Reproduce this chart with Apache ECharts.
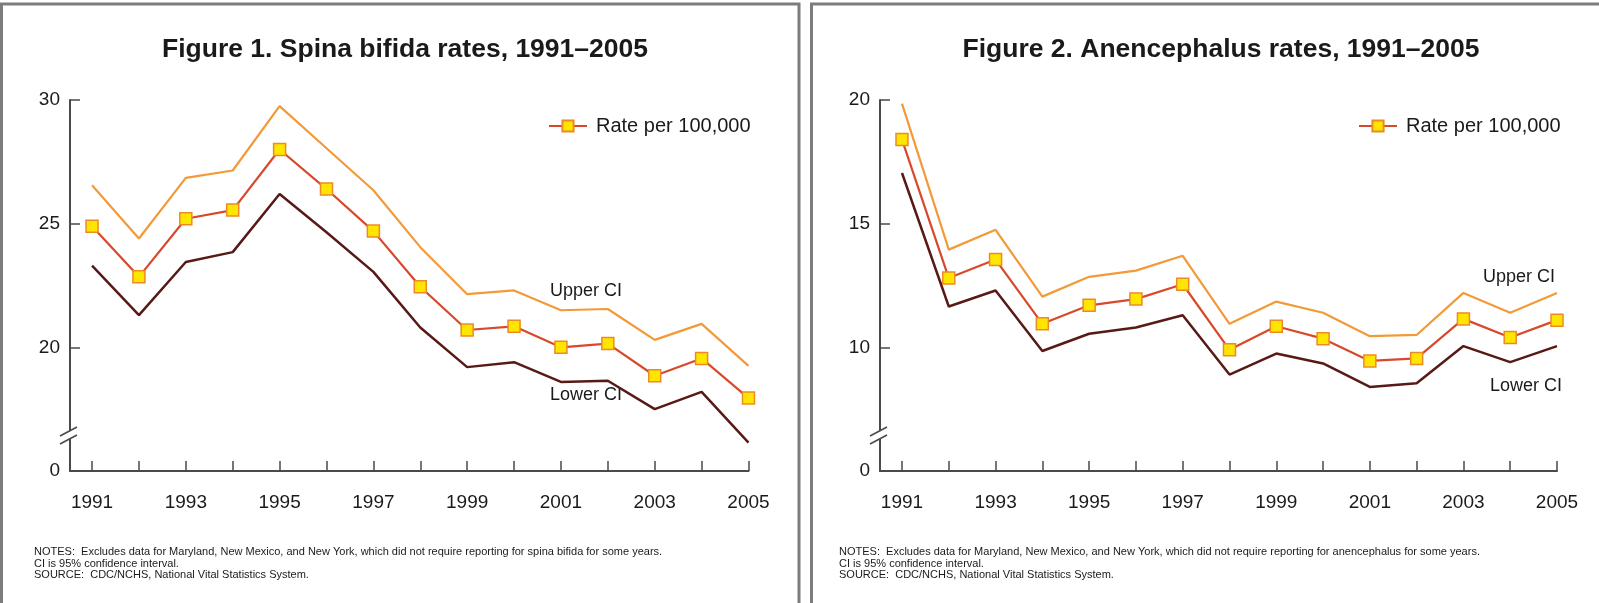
<!DOCTYPE html>
<html>
<head>
<meta charset="utf-8">
<script src="https://cdn.jsdelivr.net/npm/echarts@6/dist/echarts.min.js"></script>
<style>
html,body{margin:0;padding:0;background:#fff;}
#c{width:1599px;height:603px;}
</style>
</head>
<body>
<div id="c"></div>
<script>
// ---- data ----
var years = [1991,1992,1993,1994,1995,1996,1997,1998,1999,2000,2001,2002,2003,2004,2005];
var xLabelYears = [1991,1993,1995,1997,1999,2001,2003,2005];

var spinaRate  = [24.9, 22.85, 25.2, 25.55, 28.0, 26.4, 24.7, 22.45, 20.7, 20.85, 20.0, 20.15, 18.85, 19.55, 17.95];
var spinaUpper = [26.55, 24.4, 26.85, 27.15, 29.75, 28.05, 26.35, 24.05, 22.15, 22.3, 21.5, 21.55, 20.3, 20.95, 19.25];
var spinaLower = [23.3, 21.3, 23.45, 23.85, 26.2, 24.65, 23.05, 20.8, 19.2, 19.4, 18.6, 18.65, 17.5, 18.2, 16.15];

var anenRate  = [18.4, 12.8, 13.55, 10.95, 11.7, 11.95, 12.55, 9.9, 10.85, 10.35, 9.45, 9.55, 11.15, 10.4, 11.1];
var anenUpper = [19.85, 13.95, 14.75, 12.05, 12.85, 13.1, 13.7, 10.95, 11.85, 11.4, 10.45, 10.5, 12.2, 11.4, 12.2];
var anenLower = [17.05, 11.65, 12.3, 9.85, 10.55, 10.8, 11.3, 8.9, 9.75, 9.35, 8.4, 8.55, 10.05, 9.4, 10.05];

var spinaYTicks = [15, 20, 25, 30];   // 15 is shown as "0" (broken axis)
var anenYTicks  = [5, 10, 15, 20];    // 5 is shown as "0" (broken axis)

var titles = ['Figure 1. Spina bifida rates, 1991\u20132005', 'Figure 2. Anencephalus rates, 1991\u20132005'];
var legendName = 'Rate per 100,000';
var notes1 = ['NOTES:  Excludes data for Maryland, New Mexico, and New York, which did not require reporting for spina bifida for some years.',
              'CI is 95% confidence interval.',
              'SOURCE:  CDC/NCHS, National Vital Statistics System.'];
var notes2 = ['NOTES:  Excludes data for Maryland, New Mexico, and New York, which did not require reporting for anencephalus for some years.',
              'CI is 95% confidence interval.',
              'SOURCE:  CDC/NCHS, National Vital Statistics System.'];

// ---- chart ----
var FONT = '"Liberation Sans", Arial, Helvetica, sans-serif';
var AXIS = '#4a4a4a';
var C_UP = '#F29A38', C_RATE = '#D8492B', C_LOW = '#571A16', C_SQ = '#FFE500', C_SQB = '#EE8A26';

function pairs(v){ return years.map(function(y,i){ return [y, v[i]]; }); }

function xAxis(gi){
  return {
    type:'value', gridIndex:gi, min:1990.53, max:2005,
    axisLine:{show:true, lineStyle:{color:AXIS, width:2}},
    axisTick:{show:true, inside:true, length:10, lineStyle:{color:AXIS, width:1.5}, customValues:years},
    axisLabel:{show:true, margin:22, fontSize:19, color:'#1a1a1a', fontFamily:FONT,
               customValues:xLabelYears, formatter:function(v){return String(v);}},
    splitLine:{show:false}
  };
}
function yAxis(gi, ticks){
  var base = ticks[0];
  return {
    type:'value', gridIndex:gi, min:ticks[0], max:ticks[ticks.length-1], interval:5,
    axisLine:{show:true, lineStyle:{color:AXIS, width:2}},
    axisTick:{show:true, inside:true, length:10, lineStyle:{color:AXIS, width:1.5}},
    axisLabel:{margin:10, fontSize:19, color:'#1a1a1a', fontFamily:FONT,
               formatter:function(v){ return v===base ? '0' : String(v); }},
    splitLine:{show:false}
  };
}
function seriesSet(gi, up, rate, low){
  return [
    {type:'line', name:'Upper CI', xAxisIndex:gi, yAxisIndex:gi, data:pairs(up), symbol:'none',
     lineStyle:{color:C_UP, width:2.2}, z:2, silent:true},
    {type:'line', name:'Lower CI', xAxisIndex:gi, yAxisIndex:gi, data:pairs(low), symbol:'none',
     lineStyle:{color:C_LOW, width:2.5}, z:2, silent:true},
    {type:'line', name:legendName, xAxisIndex:gi, yAxisIndex:gi, data:pairs(rate), symbol:'rect', symbolSize:12,
     showAllSymbol:true,
     itemStyle:{color:C_SQ, borderColor:C_SQB, borderWidth:1.5},
     lineStyle:{color:C_RATE, width:2.2}, z:3, silent:true}
  ];
}
function txt(x,y,t,opt){
  opt = opt||{};
  return {type:'text', x:x, y:y, silent:true, style:{text:t, fill:opt.fill||'#1a1a1a', font:(opt.weight||'normal')+' '+(opt.size||18)+'px '+FONT,
          textAlign:opt.align||'left', textVerticalAlign:'middle'}};
}
function breakMark(ax, y){
  return [
    {type:'rect', shape:{x:ax-3, y:y-4, width:6, height:8}, style:{fill:'#fff'}, silent:true, z:100},
    {type:'line', shape:{x1:ax-10, y1:y+1, x2:ax+7, y2:y-8}, style:{stroke:AXIS, lineWidth:1.6}, silent:true, z:101},
    {type:'line', shape:{x1:ax-10, y1:y+9, x2:ax+7, y2:y}, style:{stroke:AXIS, lineWidth:1.6}, silent:true, z:101}
  ];
}

var graphics = [
  {type:'rect', shape:{x:1.5, y:4, width:797.5, height:640}, style:{fill:'none', stroke:'#7d7d7d', lineWidth:3}, silent:true},
  {type:'rect', shape:{x:811.5, y:4, width:800, height:640}, style:{fill:'none', stroke:'#7d7d7d', lineWidth:3}, silent:true},
  txt(405, 50, titles[0], {weight:'bold', size:26.5, align:'center'}),
  txt(1221, 50, titles[1], {weight:'bold', size:26.5, align:'center'}),
  txt(586, 291, 'Upper CI', {align:'center'}),
  txt(586, 395, 'Lower CI', {align:'center'}),
  txt(1519, 277, 'Upper CI', {align:'center'}),
  txt(1526, 386, 'Lower CI', {align:'center'})
].concat(breakMark(70, 435)).concat(breakMark(880, 435));
[552, 563.5, 575].forEach(function(y,i){
  graphics.push(txt(34, y, notes1[i], {size:11}));
  graphics.push(txt(839, y, notes2[i], {size:11}));
});

var chart = echarts.init(document.getElementById('c'), null, {renderer:'canvas'});
chart.setOption({
  animation:false,
  backgroundColor:'#fff',
  grid:[
    {left:70, top:100, width:678.5, height:371},
    {left:880, top:100, width:677, height:371}
  ],
  xAxis:[xAxis(0), xAxis(1)],
  yAxis:[yAxis(0, spinaYTicks), yAxis(1, anenYTicks)],
  legend:[
    {data:[legendName], left:543, top:111, itemWidth:38, itemHeight:14, textStyle:{fontSize:20, color:'#1a1a1a', fontFamily:FONT, padding:[0,0,0,4]}, selectedMode:false},
    {data:[legendName], left:1353, top:111, itemWidth:38, itemHeight:14, textStyle:{fontSize:20, color:'#1a1a1a', fontFamily:FONT, padding:[0,0,0,4]}, selectedMode:false}
  ],
  series: seriesSet(0, spinaUpper, spinaRate, spinaLower).concat(seriesSet(1, anenUpper, anenRate, anenLower)),
  graphic:{elements:graphics}
});
</script>
</body>
</html>
